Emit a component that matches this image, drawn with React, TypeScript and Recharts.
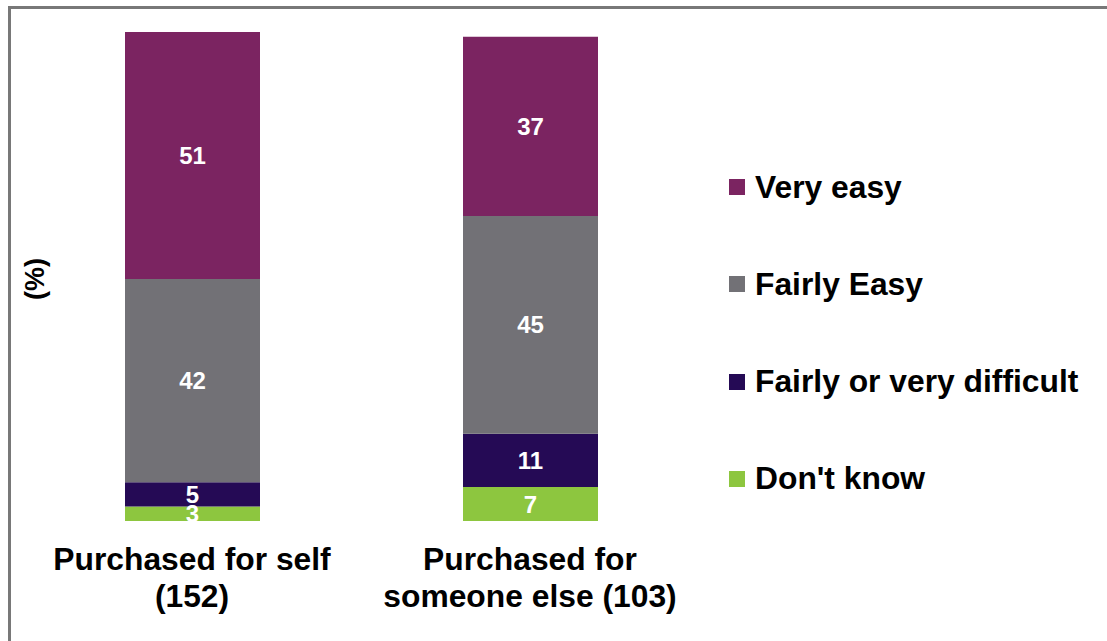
import React from "react";
import { BarChart, Bar, XAxis, YAxis, LabelList, Legend } from "recharts";

const categories = ["Purchased for self (152)", "Purchased for someone else (103)"];
const tickLines = [
  ["Purchased for self", "(152)"],
  ["Purchased for", "someone else (103)"],
];
const dontKnow = [3, 7];
const difficult = [5, 11];
const fairlyEasy = [42, 45];
const veryEasy = [51, 37];

const seriesNames = ["Don't know", "Fairly or very difficult", "Fairly Easy", "Very easy"];
const seriesKeys = ["dontKnow", "difficult", "fairlyEasy", "veryEasy"];
const seriesColors = ["#8DC63F", "#250A55", "#727176", "#7B2461"];

const data = categories.map((c, i) => ({
  name: c,
  idx: i,
  dontKnow: dontKnow[i],
  difficult: difficult[i],
  fairlyEasy: fairlyEasy[i],
  veryEasy: veryEasy[i],
}));

const FONT = "'Liberation Sans', Arial, sans-serif";

const Tick = (props: any) => {
  const { x, y, index } = props;
  const lines = tickLines[index] || [];
  return (
    <g>
      {lines.map((l, k) => (
        <text
          key={k}
          x={x}
          y={y + 49 + k * 37}
          textAnchor="middle"
          fontFamily={FONT}
          fontWeight="bold"
          fontSize={31.8}
          fill="#000"
        >
          {l}
        </text>
      ))}
    </g>
  );
};

const LegendContent = () => {
  const items = seriesNames.map((n, i) => ({ n, c: seriesColors[i] })).reverse();
  return (
    <div style={{ position: "absolute", left: 0, top: 0, width: 0, height: 0 }}>
      {items.map((it, k) => (
        <div
          key={k}
          style={{
            position: "absolute",
            left: 729,
            top: 167 + k * 97.3,
            display: "flex",
            alignItems: "center",
            whiteSpace: "nowrap",
            height: 40,
          }}
        >
          <div style={{ width: 16, height: 16, background: it.c, marginRight: 10 }} />
          <span style={{ fontFamily: FONT, fontWeight: "bold", fontSize: 31.8, color: "#000" }}>{it.n}</span>
        </div>
      ))}
    </div>
  );
};

export default function App() {
  return (
    <div style={{ position: "absolute", left: 0, top: 0, width: 1107, height: 641, background: "#fff" }}>
      <div style={{ position: "absolute", left: 8, top: 6, width: 1099, height: 3, background: "#787878" }} />
      <div style={{ position: "absolute", left: 8, top: 6, width: 3, height: 635, background: "#787878" }} />
      <div style={{ position: "absolute", left: 0, top: 0 }}>
        <BarChart
          width={1107}
          height={641}
          data={data}
          margin={{ top: 32, left: 23, right: 408, bottom: 20 }}
          barSize={135}
        >
          <XAxis
            dataKey="name"
            height={100}
            axisLine={false}
            tickLine={false}
            tickSize={0}
            tickMargin={0}
            interval={0}
            tick={<Tick />}
          />
          <YAxis hide domain={[0, 101]} />
          <Legend
            layout="vertical"
            align="right"
            verticalAlign="middle"
            wrapperStyle={{ left: 0, top: 0, width: 0, height: 0 }}
            content={<LegendContent />}
          />
          {seriesKeys.map((k, i) => (
            <Bar key={k} dataKey={k} name={seriesNames[i]} stackId="a" fill={seriesColors[i]} isAnimationActive={false}>
              <LabelList
                dataKey={k}
                position="center"
                fill="#fff"
                fontFamily={FONT}
                fontWeight="bold"
                fontSize={24}
              />
            </Bar>
          ))}
          <text
            x={35}
            y={279}
            transform="rotate(-90 35 279)"
            textAnchor="middle"
            dominantBaseline="central"
            fontFamily={FONT}
            fontWeight="bold"
            fontSize={27}
            fill="#000"
          >
            (%)
          </text>
        </BarChart>
      </div>
    </div>
  );
}
